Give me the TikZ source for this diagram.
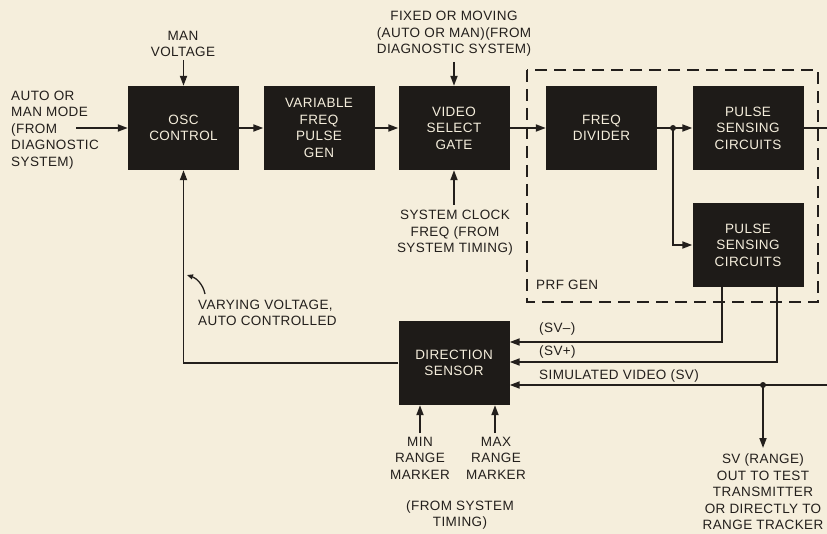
\documentclass[tikz,border=0pt]{standalone}
\usepackage{fontspec}
\setmainfont{Liberation Sans}[LetterSpace=3]
\usetikzlibrary{arrows.meta}
\definecolor{bgc}{RGB}{245,238,220}
\definecolor{boxc}{RGB}{30,27,24}
\definecolor{inkc}{RGB}{35,31,28}
\begin{document}
\begin{tikzpicture}[x=1pt,y=-1pt,
  blk/.style={fill=boxc, text=bgc, minimum width=111pt, minimum height=84pt, inner sep=0pt, align=center, font=\fontsize{13.5}{16.5}\selectfont},
  lbl/.style={text=inkc, inner sep=0pt, font=\fontsize{13.5}{16.5}\selectfont},
  ln/.style={draw=inkc, line width=1.8pt},
  arr/.style={ln, -{Triangle[length=10pt,width=7pt]}},
  dotc/.style={circle, fill=inkc, inner sep=0pt, minimum size=6pt}]
\fill[bgc] (0,0) rectangle (827,534);
\useasboundingbox (0,0) rectangle (827,534);

% dashed PRF GEN frame
\draw[draw=inkc, line width=1.6pt, dash pattern=on 12pt off 7pt] (527,70) rectangle (818,302);
\node[lbl, anchor=west] (prf) at (536,285) {PRF GEN};

% boxes
\node[blk] (osc) at (183.5,128) {OSC\\CONTROL};
\node[blk] (vfpg) at (319,128) {VARIABLE\\FREQ\\PULSE\\GEN};
\node[blk] (vsg) at (454,128) {VIDEO\\SELECT\\GATE};
\node[blk] (fdiv) at (601.5,128) {FREQ\\DIVIDER};
\node[blk] (psc1) at (748,128) {PULSE\\SENSING\\CIRCUITS};
\node[blk] (psc2) at (748,245) {PULSE\\SENSING\\CIRCUITS};
\node[blk] (dirs) at (454,363) {DIRECTION\\SENSOR};

% labels
\node[lbl, anchor=west, align=left] (inlbl) at (11,130) {AUTO OR\\MAN MODE\\(FROM\\DIAGNOSTIC\\SYSTEM)};
\node[lbl, align=center] (manlbl) at (183,44) {MAN\\VOLTAGE};
\node[lbl, align=center] (fixlbl) at (454,34) {FIXED OR MOVING\\(AUTO OR MAN)(FROM\\DIAGNOSTIC SYSTEM)};
\node[lbl, align=center] (clklbl) at (455,233) {SYSTEM CLOCK\\FREQ (FROM\\SYSTEM TIMING)};
\node[lbl, anchor=west, align=left] (varlbl) at (198,313) {VARYING VOLTAGE,\\AUTO CONTROLLED};
\node[lbl, anchor=west] (svm) at (539,329) {(SV--)};
\node[lbl, anchor=west] (svp) at (539,352) {(SV+)};
\node[lbl, anchor=west] (svl) at (539,376) {SIMULATED VIDEO (SV)};
\node[lbl, align=center] (minlbl) at (420,458) {MIN\\RANGE\\MARKER};
\node[lbl, align=center] (maxlbl) at (496,458) {MAX\\RANGE\\MARKER};
\node[lbl, align=center] (timlbl) at (460,515) {(FROM SYSTEM\\TIMING)};
\node[lbl, align=center] (outlbl) at (763,492) {SV (RANGE)\\OUT TO TEST\\TRANSMITTER\\OR DIRECTLY TO\\RANGE TRACKER};

% coordinates for free ends
\coordinate (inL) at (76,128);
\coordinate (manT) at (183.5,60);
\coordinate (fixT) at (454,62);
\coordinate (clkB) at (454,205);
\coordinate (j1) at (673,128);
\coordinate (rOut) at (827,128);
\coordinate (p2a) at (722,287);
\coordinate (p2b) at (777,287);
\coordinate (rIn) at (827,385);
\coordinate (j2) at (763,385);
\coordinate (svOut) at (763,448);
\coordinate (minB) at (420,433);
\coordinate (maxB) at (495,433);

% connectors
\draw[arr] (inL) -- (osc.west);
\draw[arr] (manT) -- (osc.north);
\draw[arr] (osc.east) -- (vfpg.west);
\draw[arr] (vfpg.east) -- (vsg.west);
\draw[arr] (fixT) -- (vsg.north);
\draw[arr] (clkB) -- (vsg.south);
\draw[arr] (vsg.east) -- (fdiv.west);
\draw[ln] (fdiv.east) -- (j1);
\draw[arr] (j1) -- (psc1.west);
\draw[arr] (j1) |- (psc2.west);
\node[dotc] at (j1) {};
\draw[ln] (psc1.east) -- (rOut);
\draw[arr] (p2a) |- ([yshift=21pt]dirs.east);
\draw[arr] (p2b) |- ([yshift=1pt]dirs.east);
\draw[arr] (rIn) -- (dirs.east |- rIn);
\node[dotc] at (j2) {};
\draw[arr] (j2) -- (svOut);
\draw[arr] (dirs.west) -| (osc.south);
\draw[arr] (minB) -- (minB |- dirs.south);
\draw[arr] (maxB) -- (maxB |- dirs.south);
\draw[draw=inkc, line width=1.3pt, -{Triangle[length=6pt,width=5pt]}] (205,294) .. controls (203,284) and (196,278) .. (187,275);
\end{tikzpicture}
\end{document}
